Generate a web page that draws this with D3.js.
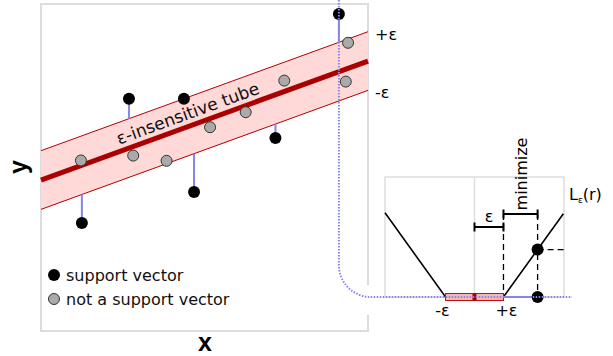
<!DOCTYPE html>
<html>
<head>
<meta charset="utf-8">
<script src="https://cdn.jsdelivr.net/npm/d3@7"></script>
<style>
  body { margin: 0; background: #fff; }
  svg { display: block; }
</style>
</head>
<body>
<div id="chart"></div>
<script>
// regression line and tube (data units)
var lineIntercept = 4.6;
var lineSlope = 0.365;
var eps = 0.9;

// points outside / on the tube (support vectors)
var supportX = [1.25, 2.69, 4.37, 4.68, 7.17, 9.11];
var supportY = [3.28, 7.09, 7.09, 4.23, 5.89, 9.69];

// points inside the tube
var otherX = [1.22, 2.82, 3.84, 5.17, 6.26, 7.44, 9.39, 9.32];
var otherY = [5.20, 5.35, 5.19, 6.22, 6.68, 7.65, 8.81, 7.62];

// loss function vertices  L_eps(r)
var lossR = [-2.78, -0.9, 0.9, 2.76];
var lossL = [1.88, 0, 0, 1.86];

// residual of the highlighted point
var residualR = 1.96;
var residualL = 1.06;

var legendLabels = ["support vector", "not a support vector"];

var width = 613, height = 356;
var font = "DejaVu Sans";
var blue = "#8585ea";

var svg = d3.select("#chart")
  .append("svg")
  .attr("width", width)
  .attr("height", height);

// main panel scales
var x = d3.scaleLinear().domain([0, 10]).range([41, 368]);
var y = d3.scaleLinear().domain([0, 10]).range([330, 4]);

function fit(v) { return lineIntercept + lineSlope * v; }

// frame
svg.append("rect")
  .attr("x", x(0)).attr("y", y(10))
  .attr("width", x(10) - x(0)).attr("height", y(0) - y(10) + 1)
  .attr("fill", "none")
  .attr("stroke", "#dddddd")
  .attr("stroke-width", 2);

// gap in the frame where the dotted path leaves
svg.append("rect")
  .attr("x", x(10) - 3).attr("y", 285)
  .attr("width", 6).attr("height", 30)
  .attr("fill", "#fff");

// tube
svg.append("path")
  .datum([0, 10])
  .attr("fill", "#ffd8d8")
  .attr("stroke", "none")
  .attr("d", d3.area()
    .x(function (d) { return x(d); })
    .y0(function (d) { return y(fit(d) - eps); })
    .y1(function (d) { return y(fit(d) + eps); }));

[eps, -eps].forEach(function (off) {
  svg.append("line")
    .attr("x1", x(0)).attr("y1", y(fit(0) + off))
    .attr("x2", x(10)).attr("y2", y(fit(10) + off))
    .attr("stroke", "#b30000")
    .attr("stroke-width", 1);
});

// regression line
svg.append("line")
  .attr("x1", x(0)).attr("y1", y(fit(0)))
  .attr("x2", x(10)).attr("y2", y(fit(10)))
  .attr("stroke", "#aa0000")
  .attr("stroke-width", 5);

// tube label along the line
var angle = Math.atan2(y(fit(10)) - y(fit(0)), x(10) - x(0)) * 180 / Math.PI;
var tx = 4.55;
svg.append("text")
  .attr("transform", "translate(" + x(tx) + "," + (y(fit(tx)) - 7) + ") rotate(" + angle + ")")
  .style("font-family", font)
  .style("font-size", "17px")
  .style("text-anchor", "middle")
  .style("fill", "#111")
  .text("ε-insensitive tube");

// residual lines from support vectors to tube edge
supportX.forEach(function (sx, i) {
  var sy = supportY[i];
  var edge = sy > fit(sx) ? fit(sx) + eps : fit(sx) - eps;
  svg.append("line")
    .attr("x1", x(sx)).attr("y1", y(sy))
    .attr("x2", x(sx)).attr("y2", y(edge))
    .attr("stroke", blue)
    .attr("stroke-width", 2);
});

// +eps / -eps labels
svg.append("text")
  .attr("x", 375).attr("y", y(fit(10) + eps) + 8)
  .style("font-family", font).style("font-size", "16px")
  .text("+ε");
svg.append("text")
  .attr("x", 375).attr("y", y(fit(10) - eps) + 8)
  .style("font-family", font).style("font-size", "16px")
  .text("-ε");

// ---- loss panel ----
var r = d3.scaleLinear().domain([-2.78, 2.78]).range([385, 564]);
var l = d3.scaleLinear().domain([0, 2.68]).range([297, 177]);

svg.append("rect")
  .attr("x", r(-2.78)).attr("y", l(2.68))
  .attr("width", r(2.78) - r(-2.78)).attr("height", l(0) - l(2.68))
  .attr("fill", "none")
  .attr("stroke", "#dddddd")
  .attr("stroke-width", 1.5);
svg.append("line")
  .attr("x1", r(0)).attr("x2", r(0))
  .attr("y1", l(2.68)).attr("y2", l(0))
  .attr("stroke", "#dddddd")
  .attr("stroke-width", 1.5);

// loss curve
svg.append("path")
  .datum(d3.zip(lossR, lossL))
  .attr("fill", "none")
  .attr("stroke", "#000")
  .attr("stroke-width", 1.6)
  .attr("d", d3.line()
    .x(function (d) { return r(d[0]); })
    .y(function (d) { return l(d[1]); }));

// dashed guides
var dash = "6,4";
[eps, residualR].forEach(function (v) {
  svg.append("line")
    .attr("x1", r(v)).attr("x2", r(v))
    .attr("y1", 214).attr("y2", l(0))
    .attr("stroke", "#000").attr("stroke-width", 1.3)
    .attr("stroke-dasharray", dash);
});
svg.append("line")
  .attr("x1", r(residualR)).attr("x2", r(2.78))
  .attr("y1", l(residualL)).attr("y2", l(residualL))
  .attr("stroke", "#000").attr("stroke-width", 1.3)
  .attr("stroke-dasharray", dash);

// brackets
function bracket(a, b, yy) {
  var g = svg.append("g")
    .attr("stroke", "#000")
    .attr("stroke-width", 2);
  g.append("line").attr("x1", r(a)).attr("x2", r(b)).attr("y1", yy).attr("y2", yy);
  g.append("line").attr("x1", r(a)).attr("x2", r(a)).attr("y1", yy - 4.5).attr("y2", yy + 4.5);
  g.append("line").attr("x1", r(b)).attr("x2", r(b)).attr("y1", yy - 4.5).attr("y2", yy + 4.5);
}
bracket(0, eps, 227);
bracket(eps, residualR, 214);

svg.append("text")
  .attr("x", (r(0) + r(eps)) / 2).attr("y", 222)
  .style("font-family", font).style("font-size", "16px")
  .style("text-anchor", "middle")
  .text("ε");

svg.append("text")
  .attr("transform", "translate(527,174) rotate(-90)")
  .style("font-family", font).style("font-size", "16px")
  .style("text-anchor", "middle")
  .text("minimize");

var lt = svg.append("text")
  .attr("x", 569).attr("y", 200)
  .style("font-family", font).style("font-size", "16px");
lt.append("tspan").text("L");
lt.append("tspan").attr("dy", 3).style("font-size", "9px").text("ε");
lt.append("tspan").attr("dy", -3).text("(r)");

// tube in the residual space
svg.append("rect")
  .attr("x", r(-eps)).attr("y", l(0) - 3.5)
  .attr("width", r(eps) - r(-eps)).attr("height", 7)
  .attr("fill", "#f4b8b8")
  .attr("stroke", "#c01010")
  .attr("stroke-width", 1);
svg.append("rect")
  .attr("x", r(0) - 2).attr("y", l(0) - 3.5)
  .attr("width", 4).attr("height", 7)
  .attr("fill", "#aa0000");

// residual
svg.append("line")
  .attr("x1", r(eps)).attr("x2", r(residualR))
  .attr("y1", l(0)).attr("y2", l(0))
  .attr("stroke", blue).attr("stroke-width", 2);

svg.append("text")
  .attr("x", r(-eps) - 3).attr("y", 316)
  .style("font-family", font).style("font-size", "16px")
  .style("text-anchor", "middle")
  .text("-ε");
svg.append("text")
  .attr("x", r(eps) + 3).attr("y", 316)
  .style("font-family", font).style("font-size", "16px")
  .style("text-anchor", "middle")
  .text("+ε");

// points in main panel
svg.selectAll("circle.other")
  .data(d3.zip(otherX, otherY))
  .enter()
  .append("circle")
  .attr("class", "other")
  .attr("cx", function (d) { return x(d[0]); })
  .attr("cy", function (d) { return y(d[1]); })
  .attr("r", 5.5)
  .attr("fill", "#aaaaaa")
  .attr("stroke", "#333")
  .attr("stroke-width", 1);

svg.selectAll("circle.sv")
  .data(d3.zip(supportX, supportY))
  .enter()
  .append("circle")
  .attr("class", "sv")
  .attr("cx", function (d) { return x(d[0]); })
  .attr("cy", function (d) { return y(d[1]); })
  .attr("r", 6)
  .attr("fill", "#000");

// points in loss panel
svg.append("circle")
  .attr("cx", r(residualR)).attr("cy", l(residualL))
  .attr("r", 6).attr("fill", "#000");
svg.append("circle")
  .attr("cx", r(residualR)).attr("cy", l(0))
  .attr("r", 6).attr("fill", "#000");

// dotted path linking the point to its residual
var px = x(supportX[5]), py = l(0), rad = 32;
var p = d3.path();
p.moveTo(px, 0);
p.lineTo(px, py - rad);
p.arcTo(px, py, px + rad, py, rad);
p.lineTo(r(2.78) + 8, py);
svg.append("path")
  .attr("d", p.toString())
  .attr("fill", "none")
  .attr("stroke", blue)
  .attr("stroke-width", 2)
  .attr("stroke-dasharray", "1.5,1.5");

// legend
var legend = svg.append("g");
legendLabels.forEach(function (t, i) {
  legend.append("circle")
    .attr("cx", 54).attr("cy", 275 + i * 24)
    .attr("r", i == 0 ? 6 : 5.5)
    .attr("fill", i == 0 ? "#000" : "#aaaaaa")
    .attr("stroke", i == 0 ? "none" : "#333");
  legend.append("text")
    .attr("x", 66).attr("y", 281 + i * 24)
    .style("font-family", font).style("font-size", "16px")
    .style("fill", "#111")
    .text(t);
});

// axis labels
svg.append("text")
  .attr("x", 205).attr("y", 351)
  .style("font-family", "Liberation Sans").style("font-size", "25px")
  .style("font-weight", "bold")
  .style("text-anchor", "middle")
  .text("x");
svg.append("text")
  .attr("transform", "translate(27,167) rotate(-90)")
  .style("font-family", "Liberation Sans").style("font-size", "25px")
  .style("font-weight", "bold")
  .style("text-anchor", "middle")
  .text("y");
</script>
</body>
</html>
